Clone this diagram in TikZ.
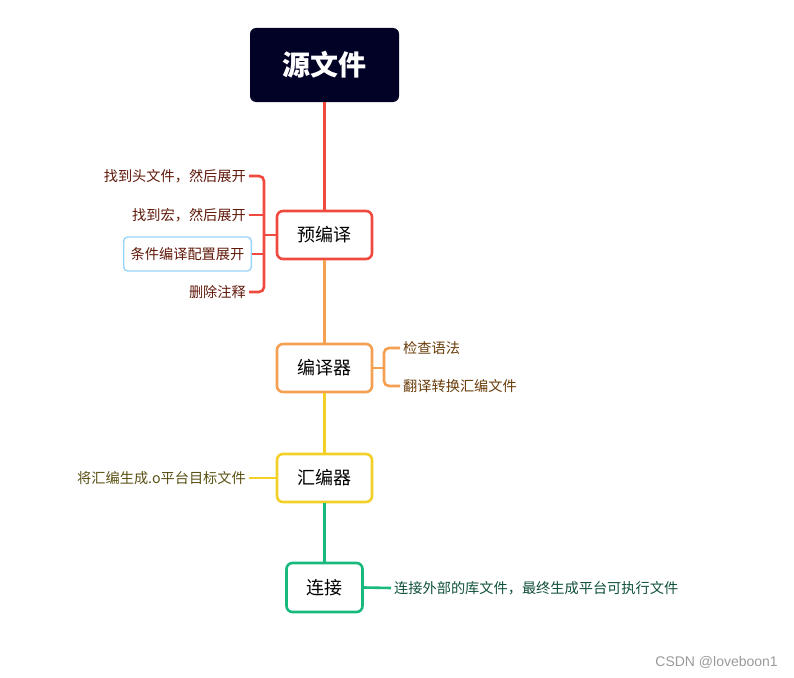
\documentclass[tikz,border=0pt]{standalone}
\usepackage{fontspec}
\newfontfamily\cjk{Noto Sans CJK SC}
\newfontfamily\wmfont{Liberation Sans}
\usetikzlibrary{positioning}
\definecolor{rootNavy}{RGB}{2, 2, 38}
\definecolor{stRed}{RGB}{240, 74, 62}
\definecolor{stOrange}{RGB}{245, 160, 80}
\definecolor{stYellow}{RGB}{242, 208, 40}
\definecolor{stGreen}{RGB}{24, 185, 125}
\definecolor{hiBlue}{RGB}{150, 212, 250}
\definecolor{txRed}{RGB}{95, 25, 10}
\definecolor{txOrange}{RGB}{105, 60, 10}
\definecolor{txYellow}{RGB}{90, 80, 20}
\definecolor{txGreen}{RGB}{15, 80, 60}

\begin{document}
\begin{tikzpicture}[
        x=1pt, y=-1pt,
        font=\cjk,
        stage/.style={rectangle, rounded corners=6pt, draw, line width=2.6pt, fill=white,
            minimum width=95pt, minimum height=48pt, font=\cjk\fontsize{18}{20}\selectfont},
        leaf/.style={inner sep=3pt, font=\cjk\fontsize{14.2}{16}\selectfont},
        link/.style={line width=2.6pt, rounded corners=5pt}
    ]
    \useasboundingbox (0,0) rectangle (794,677);
    \node[rectangle, rounded corners=6pt, fill=rootNavy, text=white, minimum width=149pt, minimum height=74pt,
        font=\cjk\bfseries\fontsize{28}{30}\selectfont] (src) at (324.5,65) {源文件};
    \node[stage, draw=stRed]    (pre)  at (324.5,235) {预编译};
    \node[stage, draw=stOrange] (comp) at (324.5,368) {编译器};
    \node[stage, draw=stYellow] (asm)  at (324.5,478) {汇编器};
    \node[stage, draw=stGreen, minimum width=76pt, minimum height=49pt] (lnk) at (324.5,587.5) {连接};

    \draw[link, stRed]    (src.south) -- (pre.north);
    \draw[link, stOrange] (pre.south) -- (comp.north);
    \draw[link, stYellow] (comp.south) -- (asm.north);
    \draw[link, stGreen]  (asm.south) -- (lnk.north);

    % preprocess
    \node[leaf, anchor=east, text=txRed] (pre1) at (249,176) {找到头文件，然后展开};
    \node[leaf, anchor=east, text=txRed] (pre2) at (249,215) {找到宏，然后展开};
    \node[leaf, anchor=east, text=txRed, draw=hiBlue, line width=1.4pt, rounded corners=4pt,
        inner xsep=7pt, minimum height=34pt] (pre3) at (252,254) {条件编译配置展开};
    \node[leaf, anchor=east, text=txRed] (pre4) at (249,292) {删除注释};
    \coordinate (prebr) at (264,235);
    \draw[link, stRed] (pre1.east) -| (prebr) |- (pre4.east);
    \draw[link, stRed] (pre2.east) -- (pre2.east -| prebr);
    \draw[link, stRed] (pre3.east) -- (pre3.east -| prebr);
    \draw[link, stRed] (prebr) -- (pre.west);

    % compile
    \node[leaf, anchor=west, text=txOrange] (comp1) at (400,348) {检查语法};
    \node[leaf, anchor=west, text=txOrange] (comp2) at (400,386) {翻译转换汇编文件};
    \coordinate (compbr) at (384,368);
    \draw[link, stOrange] (comp1.west) -| (compbr) |- (comp2.west);
    \draw[link, stOrange] (comp.east) -- (compbr);

    % assemble
    \node[leaf, anchor=east, text=txYellow] (asm1) at (249,478) {将汇编生成.o平台目标文件};
    \draw[link, stYellow] (asm1.east) -- (asm.west);

    % link
    \node[leaf, anchor=west, text=txGreen] (lnk1) at (391,588) {连接外部的库文件，最终生成平台可执行文件};
    \draw[link, stGreen] (lnk.east) -- (lnk1.west);

    \node[anchor=east, inner sep=0pt, text=black!40, font=\wmfont\fontsize{14}{16}\selectfont] (mark) at (778,662) {CSDN @loveboon1};
\end{tikzpicture}
\end{document}
